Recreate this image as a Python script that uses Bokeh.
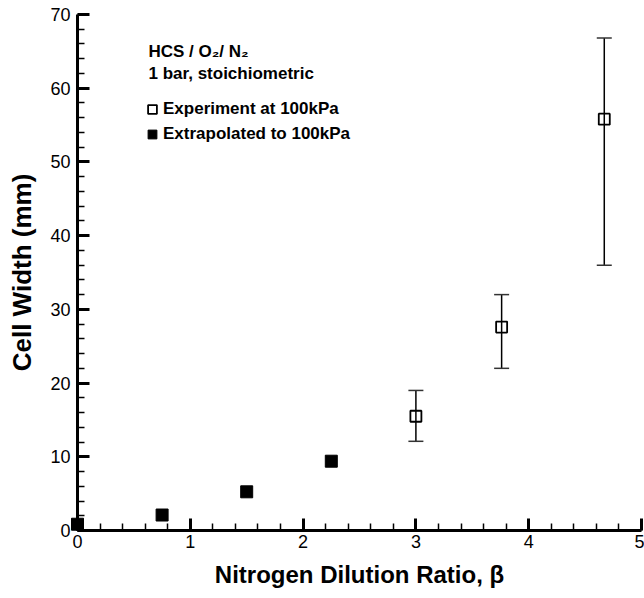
from bokeh.plotting import figure
from bokeh.models import (ColumnDataSource, Whisker, TeeHead, Legend, LegendItem,
                          Label, Range1d, SingleIntervalTicker)
from bokeh.embed import file_html
from bokeh.resources import INLINE

# ---- data ----
ext_beta = [0.0, 0.75, 1.5, 2.25]
ext_width = [0.85, 2.1, 5.25, 9.4]

exp_beta = [3.0, 3.76, 4.67]
exp_width = [15.5, 27.6, 55.8]
exp_lower = [12.1, 22.0, 36.0]
exp_upper = [19.0, 32.0, 66.8]

header_lines = ["HCS / O\u2082/ N\u2082", "1 bar, stoichiometric"]
legend_labels = ["Experiment at 100kPa", "Extrapolated to 100kPa"]
x_title = "Nitrogen Dilution Ratio, \u03b2"
y_title = "Cell Width (mm)"

FONT = "Liberation Sans"

p = figure(width=644, height=598, output_backend="svg", toolbar_location=None,
           x_range=Range1d(0, 5), y_range=Range1d(0, 70),
           min_border_left=77, min_border_right=3, min_border_top=14,
           min_border_bottom=68)
p.outline_line_color = None
p.xgrid.visible = False
p.ygrid.visible = False
p.background_fill_color = "white"
p.border_fill_color = "white"

p.xaxis.ticker = SingleIntervalTicker(interval=1, num_minor_ticks=5)
p.yaxis.ticker = SingleIntervalTicker(interval=10, num_minor_ticks=5)

for ax in (p.xaxis, p.yaxis):
    ax.axis_line_width = 3
    ax.axis_line_color = "black"
    ax.major_tick_in = 12
    ax.major_tick_out = 0
    ax.minor_tick_in = 7
    ax.minor_tick_out = 0
    ax.major_tick_line_width = 3
    ax.minor_tick_line_width = 1.5
    ax.major_tick_line_color = "black"
    ax.minor_tick_line_color = "black"
    ax.major_label_text_font = FONT
    ax.major_label_text_font_size = "18px"
    ax.major_label_text_color = "black"
    ax.axis_label_text_font = FONT
    ax.axis_label_text_font_style = "bold"
    ax.axis_label_text_color = "black"

p.xaxis.axis_label = x_title
p.yaxis.axis_label = y_title
p.xaxis.axis_label_text_font_size = "24px"
p.yaxis.axis_label_text_font_size = "26px"
p.xaxis.major_label_standoff = 4
p.yaxis.major_label_standoff = 7
p.xaxis.axis_label_standoff = 10
p.yaxis.axis_label_standoff = 10

exp_src = ColumnDataSource(dict(x=exp_beta, y=exp_width, lower=exp_lower, upper=exp_upper))
ext_src = ColumnDataSource(dict(x=ext_beta, y=ext_width))

wh = Whisker(source=exp_src, base="x", upper="upper", lower="lower", dimension="height",
             line_width=1.5, line_color="black",
             upper_head=TeeHead(size=15, line_width=1.5, line_color="#333333"),
             lower_head=TeeHead(size=15, line_width=1.5, line_color="#333333"))
p.add_layout(wh)

r_exp = p.scatter("x", "y", source=exp_src, marker="square", size=11,
                  fill_alpha=0, line_color="black", line_width=1.8)
# overlay level so the marker sitting on the axis at beta=0 is not clipped
r_ext = p.scatter("x", "y", source=ext_src, marker="square", size=12,
                  fill_color="black", line_color="black", level="overlay")

legend = Legend(items=[LegendItem(label=legend_labels[0], renderers=[r_exp]),
                       LegendItem(label=legend_labels[1], renderers=[r_ext])],
                location=(64, 385), padding=0, margin=0, spacing=3,
                glyph_width=22, glyph_height=22, label_standoff=0,
                label_text_font=FONT, label_text_font_style="bold",
                label_text_font_size="17px", label_text_color="black",
                background_fill_alpha=0, border_line_alpha=0)
p.add_layout(legend)

for txt, yy in zip(header_lines, [479, 457]):
    p.add_layout(Label(x=71, y=yy, x_units="screen", y_units="screen", text=txt,
                       text_font=FONT, text_font_style="bold", text_font_size="17px",
                       text_baseline="middle", text_color="black"))

open("out.html", "w").write(file_html(p, INLINE))
